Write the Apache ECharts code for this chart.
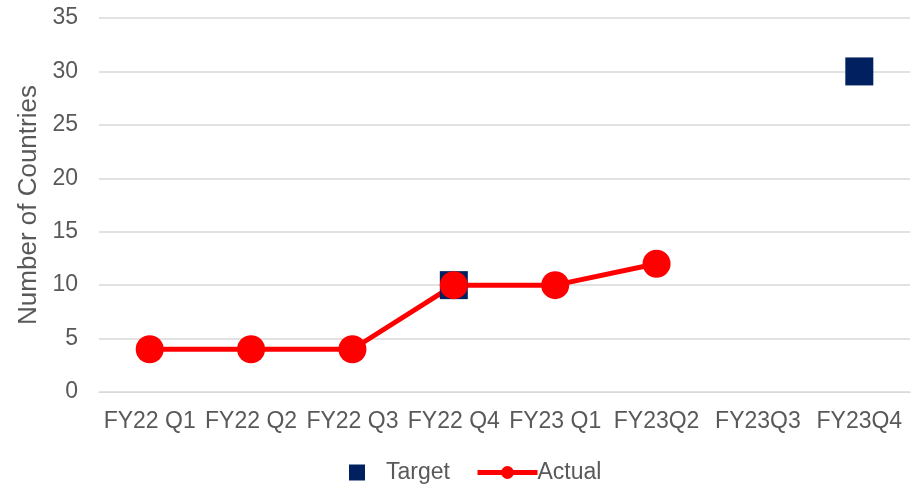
<!DOCTYPE html>
<html>
<head>
<meta charset="utf-8">
<script src="https://cdn.jsdelivr.net/npm/echarts@6/dist/echarts.min.js"></script>
<style>
  html, body { margin: 0; padding: 0; background: #fff; }
  #chart { width: 915px; height: 484px; }
</style>
</head>
<body>
<div id="chart"></div>
<script>
// 季度
const quarters = ['FY22 Q1', 'FY22 Q2', 'FY22 Q3', 'FY22 Q4', 'FY23 Q1', 'FY23Q2', 'FY23Q3', 'FY23Q4']
// 目标值 (只有两个点)
const target = [null, null, null, 10, null, null, null, 30]
// 实际值
const actual = [4, 4, 4, 10, 10, 12, null, null]

const FONT = '"Liberation Sans", Arial, sans-serif'
const GREY = '#595959'

const chart = echarts.init(document.getElementById('chart'))

chart.setOption({
    animation: false,
    textStyle: { fontFamily: FONT },
    grid: { left: 99, right: 5, top: 18, bottom: 92 },
    // 两个图例分开放，方便控制图标宽度
    legend: [
        {
            data: ['Target'],
            left: 344, top: 456,
            icon: 'rect',
            itemWidth: 16, itemHeight: 16,
            textStyle: { fontSize: 23, color: GREY, fontFamily: FONT, padding: [0, 0, 0, 16] }
        },
        {
            data: ['Actual'],
            left: 470, top: 456,
            itemWidth: 60, itemHeight: 16,
            lineStyle: { width: 5 },
            textStyle: { fontSize: 23, color: GREY, fontFamily: FONT, padding: [0, 0, 0, -5] }
        }
    ],
    xAxis: {
        type: 'category',
        data: quarters,
        axisLine: { lineStyle: { color: '#d9d9d9' } },
        axisTick: { show: false },
        axisLabel: { interval: 0, fontSize: 23, color: GREY, margin: 18, fontFamily: FONT }
    },
    yAxis: {
        type: 'value',
        min: 0, max: 35, interval: 5,
        name: 'Number of Countries',
        nameLocation: 'middle',
        nameGap: 54,
        nameTextStyle: { fontSize: 26, color: GREY, fontFamily: FONT },
        axisLabel: { fontSize: 23, color: GREY, margin: 21, fontFamily: FONT },
        splitLine: { lineStyle: { color: '#d9d9d9', width: 1.5 } }
    },
    series: [
        {
            name: 'Target',
            type: 'line',
            data: target,
            symbol: 'rect',
            symbolSize: 28,
            lineStyle: { width: 0 },
            itemStyle: { color: '#002060' },
            connectNulls: false
        },
        {
            name: 'Actual',
            type: 'line',
            data: actual,
            symbol: 'circle',
            symbolSize: 28,
            lineStyle: { width: 5, color: '#ff0000' },
            itemStyle: { color: '#ff0000' }
        }
    ]
})
</script>
</body>
</html>
